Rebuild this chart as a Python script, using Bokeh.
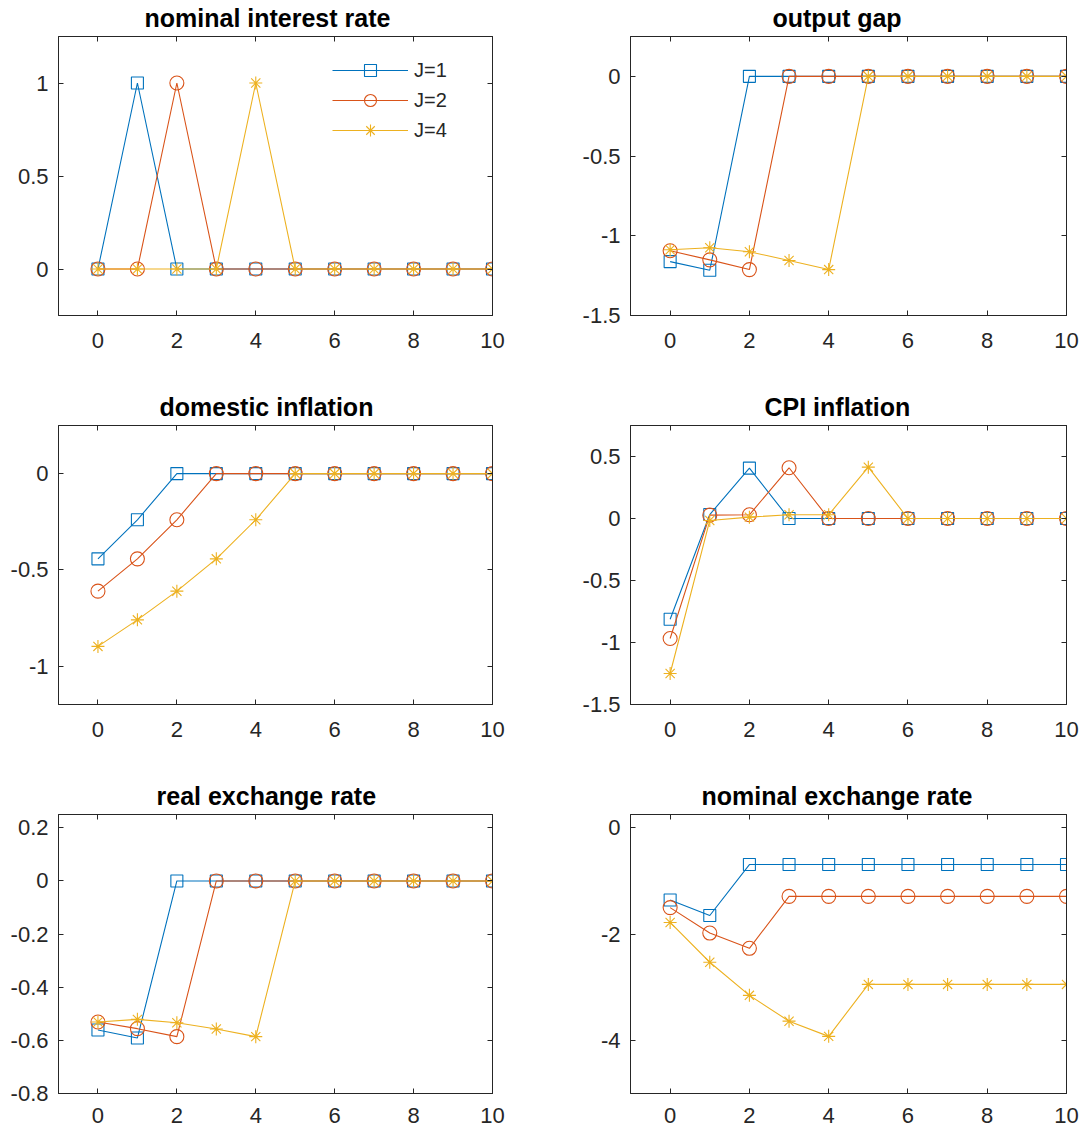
from bokeh.plotting import figure
from bokeh.models import Range1d, LinearAxis, FixedTicker, Legend, LegendItem, Title
from bokeh.layouts import gridplot
from bokeh.embed import file_html
from bokeh.resources import INLINE

# ---------------- data ----------------
periods = [0, 1, 2, 3, 4, 5, 6, 7, 8, 9, 10]
series_labels = ["J=1", "J=2", "J=4"]
x_ticks = [0, 2, 4, 6, 8, 10]

interest_j1 = [0, 1, 0, 0, 0, 0, 0, 0, 0, 0, 0]
interest_j2 = [0, 0, 1, 0, 0, 0, 0, 0, 0, 0, 0]
interest_j4 = [0, 0, 0, 0, 1, 0, 0, 0, 0, 0, 0]

gap_j1 = [-1.162, -1.216, 0, 0, 0, 0, 0, 0, 0, 0, 0]
gap_j2 = [-1.094, -1.151, -1.212, 0, 0, 0, 0, 0, 0, 0, 0]
gap_j4 = [-1.088, -1.075, -1.100, -1.155, -1.212, 0, 0, 0, 0, 0, 0]

dom_j1 = [-0.443, -0.240, 0, 0, 0, 0, 0, 0, 0, 0, 0]
dom_j2 = [-0.611, -0.443, -0.240, 0, 0, 0, 0, 0, 0, 0, 0]
dom_j4 = [-0.898, -0.760, -0.611, -0.443, -0.240, 0, 0, 0, 0, 0, 0]

cpi_j1 = [-0.812, 0.032, 0.406, 0, 0, 0, 0, 0, 0, 0, 0]
cpi_j2 = [-0.968, 0.027, 0.030, 0.409, 0, 0, 0, 0, 0, 0, 0]
cpi_j4 = [-1.250, -0.016, 0.011, 0.030, 0.030, 0.414, 0, 0, 0, 0, 0]

rer_j1 = [-0.561, -0.591, 0, 0, 0, 0, 0, 0, 0, 0, 0]
rer_j2 = [-0.531, -0.556, -0.586, 0, 0, 0, 0, 0, 0, 0, 0]
rer_j4 = [-0.531, -0.521, -0.534, -0.557, -0.586, 0, 0, 0, 0, 0, 0]

ner_j1 = [-1.358, -1.651, -0.692, -0.692, -0.692, -0.692, -0.692, -0.692, -0.692, -0.692, -0.692]
ner_j2 = [-1.502, -1.981, -2.268, -1.290, -1.290, -1.290, -1.290, -1.290, -1.290, -1.290, -1.290]
ner_j4 = [-1.782, -2.530, -3.153, -3.639, -3.925, -2.947, -2.947, -2.947, -2.947, -2.947, -2.947]

titles = ["nominal interest rate", "output gap", "domestic inflation",
          "CPI inflation", "real exchange rate", "nominal exchange rate"]
y_ranges = [(-0.25, 1.25), (-1.5, 0.25), (-1.2, 0.25), (-1.5, 0.75), (-0.8, 0.25), (-5, 0.25)]
y_ticks = [[0, 0.5, 1], [-1.5, -1, -0.5, 0], [-1, -0.5, 0],
           [-1.5, -1, -0.5, 0, 0.5], [-0.8, -0.6, -0.4, -0.2, 0, 0.2], [-4, -2, 0]]
panel_data = [
    [interest_j1, interest_j2, interest_j4],
    [gap_j1, gap_j2, gap_j4],
    [dom_j1, dom_j2, dom_j4],
    [cpi_j1, cpi_j2, cpi_j4],
    [rer_j1, rer_j2, rer_j4],
    [ner_j1, ner_j2, ner_j4],
]

# ---------------- style ----------------
FONT = "Liberation Sans"
AXC = "#262626"
COLORS = ["#0072BD", "#D95319", "#EDB120"]
MARKERS = ["square", "circle", "asterisk"]
MSIZE = [12, 14, 13]

FRAME_H = 279
COL_FW = [434, 436]
COL_BL = [58, 50]
COL_BR = [87, 18]
ROW_BT = [36, 60, 60]
ROW_BB = [50, 50, 39]
X_STANDOFF = [17, 17, 14]
# left offset of each title inside its frame (title is left aligned)
TITLE_LEFT = [86, 142, 101, 134, 98, 71]
TITLE_GAP = 5


def fmt(v):
    return "%g" % v


def style_axis(ax, ticks, show_labels, standoff):
    ax.ticker = FixedTicker(ticks=ticks)
    ax.minor_tick_line_color = None
    ax.major_tick_in = 5
    ax.major_tick_out = 0
    ax.major_tick_line_color = AXC
    ax.major_tick_line_width = 1
    ax.axis_line_color = AXC
    ax.axis_line_width = 1
    ax.major_label_text_font = FONT
    ax.major_label_text_color = AXC
    ax.major_label_standoff = standoff
    if show_labels:
        ax.major_label_text_font_size = "22px"
        ax.major_label_overrides = {t: fmt(t) for t in ticks}
    else:
        ax.major_label_text_font_size = "1px"
        ax.major_label_overrides = {t: "" for t in ticks}


def make_panel(i):
    row, col = divmod(i, 2)
    yr = y_ranges[i]
    p = figure(frame_width=COL_FW[col], frame_height=FRAME_H,
               x_range=Range1d(-1, 10), y_range=Range1d(*yr),
               output_backend="svg", toolbar_location=None,
               min_border_left=COL_BL[col], min_border_right=COL_BR[col],
               min_border_top=ROW_BT[row], min_border_bottom=ROW_BB[row])
    p.title = Title(text=titles[i], align="left", offset=TITLE_LEFT[i],
                    standoff=0, text_font=FONT, text_font_size="25px",
                    text_font_style="bold", text_color="black")
    p.grid.visible = False
    p.outline_line_color = AXC
    p.outline_line_width = 1
    p.background_fill_color = "white"
    p.border_fill_color = "white"

    style_axis(p.xaxis[0], x_ticks, True, X_STANDOFF[row])
    style_axis(p.yaxis[0], y_ticks[i], True, 10)
    top = LinearAxis()
    style_axis(top, x_ticks, False, 0)
    p.add_layout(top, "above")
    # invisible spacer between the box and the title
    spacer = LinearAxis()
    style_axis(spacer, x_ticks, False, 0)
    spacer.major_tick_in = 0
    spacer.major_tick_out = TITLE_GAP
    spacer.major_tick_line_color = None
    spacer.axis_line_color = None
    p.add_layout(spacer, "above")
    right = LinearAxis()
    style_axis(right, y_ticks[i], False, 0)
    p.add_layout(right, "right")

    items = []
    for k in range(3):
        vals = panel_data[i][k]
        lr = p.line(periods, vals, line_color=COLORS[k], line_width=1.1)
        sr = p.scatter(periods, vals, marker=MARKERS[k], size=MSIZE[k],
                       line_color=COLORS[k], fill_color=None, line_width=1.1)
        items.append(LegendItem(label=series_labels[k], renderers=[lr, sr]))

    if i == 0:
        legend = Legend(items=items, location=(274, 170), orientation="vertical",
                        glyph_width=76, glyph_height=30, label_height=30,
                        label_standoff=6, spacing=-2, padding=0, margin=0,
                        border_line_color=None, background_fill_color="white",
                        background_fill_alpha=1.0, label_text_font=FONT,
                        label_text_font_size="20px", label_text_color=AXC)
        p.add_layout(legend)
    return p


panels = [make_panel(i) for i in range(6)]
grid = gridplot([[panels[0], panels[1]], [panels[2], panels[3]], [panels[4], panels[5]]],
                toolbar_location=None)

open("out.html", "w").write(file_html(grid, INLINE))
